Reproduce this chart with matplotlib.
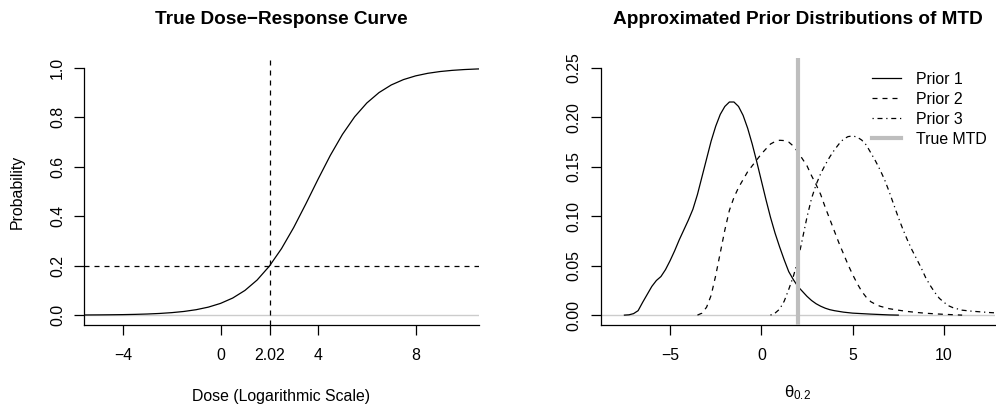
import matplotlib
matplotlib.use("Agg")
import matplotlib.pyplot as plt

plt.rcParams['font.family'] = ['Liberation Sans', 'DejaVu Sans']
plt.rcParams['mathtext.fontset'] = 'custom'
plt.rcParams['mathtext.rm'] = 'Liberation Sans'
plt.rcParams['mathtext.it'] = 'Liberation Sans'
plt.rcParams['mathtext.bf'] = 'Liberation Sans:bold'

# true dose-response curve (log dose scale)
dose = [-6.0, -5.5, -5.0, -4.5, -4.0, -3.5, -3.0, -2.5, -2.0, -1.5, -1.0, -0.5,
        0.0, 0.5, 1.0, 1.5, 2.0, 2.5, 3.0, 3.5, 4.0, 4.5, 5.0, 5.5,
        6.0, 6.5, 7.0, 7.5, 8.0, 8.5, 9.0, 9.5, 10.0, 10.5, 11.0]
prob = [0.0004, 0.0006, 0.0009, 0.0014, 0.0020, 0.0030, 0.0045, 0.0067, 0.0100, 0.0148, 0.0219, 0.0323,
        0.0474, 0.0691, 0.0998, 0.1419, 0.1978, 0.2689, 0.3543, 0.4502, 0.5498, 0.6457, 0.7311, 0.8022,
        0.8581, 0.9002, 0.9309, 0.9526, 0.9677, 0.9781, 0.9852, 0.9900, 0.9933, 0.9955, 0.9970]
target = 0.2
mtd = 2.02
dose_ticks = [-4, 0, 2.02, 4, 8]
dose_labels = ["\u22124", "0", "2.02", "4", "8"]
prob_ticks = [0.0, 0.2, 0.4, 0.6, 0.8, 1.0]

# approximated prior densities of the MTD
prior1_x = [-7.5, -7.25, -7.0, -6.75, -6.5, -6.25, -6.0, -5.75, -5.5, -5.25, -5.0, -4.75, -4.5, -4.25,
            -4.0, -3.75, -3.5, -3.25, -3.0, -2.75, -2.5, -2.25, -2.0, -1.75, -1.5, -1.25, -1.0, -0.75,
            -0.5, -0.25, 0.0, 0.25, 0.5, 0.75, 1.0, 1.25, 1.5, 1.75, 2.0, 2.25, 2.5, 2.75, 3.0, 3.25,
            3.5, 3.75, 4.0, 4.5, 5.0, 5.5, 6.0, 6.5, 7.0, 7.5]
prior1_y = [0.0, 0.0003, 0.0015, 0.0045, 0.013, 0.021, 0.029, 0.035, 0.039, 0.046, 0.055, 0.065, 0.076, 0.086,
            0.096, 0.107, 0.122, 0.140, 0.158, 0.176, 0.191, 0.203, 0.211, 0.2155, 0.2155, 0.211, 0.202, 0.189,
            0.173, 0.155, 0.136, 0.117, 0.099, 0.083, 0.069, 0.056, 0.044, 0.036, 0.029, 0.024, 0.019, 0.0148,
            0.0115, 0.009, 0.007, 0.0055, 0.0045, 0.003, 0.002, 0.0015, 0.001, 0.0006, 0.0002, 0.0]
prior2_x = [-3.5, -3.25, -3.0, -2.75, -2.5, -2.25, -2.0, -1.75, -1.5, -1.25, -1.0, -0.75, -0.5, -0.25,
            0.0, 0.25, 0.5, 0.75, 1.0, 1.25, 1.5, 1.75, 2.0, 2.25, 2.5, 2.75, 3.0, 3.25, 3.5, 3.75,
            4.0, 4.25, 4.5, 4.75, 5.0, 5.25, 5.5, 5.75, 6.0, 6.25, 6.5, 7.0, 7.5, 8.0, 8.5, 9.0,
            9.5, 10.0, 10.5, 11.0]
prior2_y = [0.0, 0.002, 0.008, 0.020, 0.040, 0.063, 0.086, 0.106, 0.119, 0.129, 0.137, 0.145, 0.151, 0.157,
            0.163, 0.168, 0.173, 0.1755, 0.1768, 0.1765, 0.175, 0.171, 0.165, 0.158, 0.151, 0.141, 0.132, 0.122,
            0.109, 0.097, 0.085, 0.073, 0.062, 0.051, 0.041, 0.032, 0.024, 0.018, 0.0135, 0.011, 0.009, 0.0065,
            0.005, 0.0037, 0.0027, 0.0019, 0.0013, 0.0008, 0.0004, 0.0]
prior3_x = [0.5, 0.75, 1.0, 1.25, 1.5, 1.75, 2.0, 2.25, 2.5, 2.75, 3.0, 3.25, 3.5, 3.75, 4.0, 4.25,
            4.5, 4.75, 5.0, 5.25, 5.5, 5.75, 6.0, 6.25, 6.5, 6.75, 7.0, 7.25, 7.5, 7.75, 8.0, 8.25,
            8.5, 8.75, 9.0, 9.25, 9.5, 9.75, 10.0, 10.25, 10.5, 11.0, 11.5, 12.0, 12.5, 13.0]
prior3_y = [0.0, 0.002, 0.006, 0.014, 0.026, 0.039, 0.055, 0.077, 0.099, 0.118, 0.132, 0.143, 0.152, 0.160,
            0.167, 0.173, 0.178, 0.1805, 0.1812, 0.180, 0.177, 0.172, 0.164, 0.156, 0.147, 0.137, 0.125, 0.112,
            0.099, 0.087, 0.076, 0.066, 0.057, 0.048, 0.038, 0.030, 0.023, 0.017, 0.013, 0.0095, 0.0075, 0.005,
            0.004, 0.0033, 0.0026, 0.0021]
theta_ticks = [-5, 0, 5, 10]
theta_labels = ["\u22125", "0", "5", "10"]
dens_ticks = [0.0, 0.05, 0.10, 0.15, 0.20, 0.25]
legend_labels = ["Prior 1", "Prior 2", "Prior 3", "True MTD"]

W, H = 996, 408
fs = 11.4
lw = 0.9
grey = "#bebebe"

fig = plt.figure(figsize=(W / 100, H / 100), dpi=100)
ax1 = fig.add_axes([84 / W, 1 - 325 / H, 395 / W, 267 / H])
ax2 = fig.add_axes([600.7 / W, 1 - 325 / H, 394.3 / W, 267 / H])


def style_axes(ax, ybottom, ytop):
    for s in ("top", "right"):
        ax.spines[s].set_visible(False)
    for s in ("left", "bottom"):
        ax.spines[s].set_linewidth(lw)
    ax.spines["left"].set_bounds(ybottom, ytop)
    ax.tick_params(length=7.2, width=lw, labelsize=fs)
    ax.tick_params(axis="x", pad=9)
    ax.tick_params(axis="y", pad=6.5, labelrotation=90)
    for t in ax.get_yticklabels():
        t.set_va("center")


# left panel
ax1.axhline(0, color="#cccccc", lw=1.0, zorder=1)
ax1.plot(dose, prob, color="black", lw=lw, zorder=2)
ax1.axhline(target, color="black", lw=lw, ls=(0, (4, 4)), zorder=3)
ax1.axvline(mtd, color="black", lw=lw, ls=(0, (4, 4)), zorder=3)
ax1.set_xlim(-5.6, 10.6)
ax1.set_ylim(-0.04, 1.04)
ax1.set_xticks(dose_ticks, dose_labels)
ax1.set_yticks(prob_ticks, [f"{v:.1f}" for v in prob_ticks])
style_axes(ax1, -0.04, 1.0)
ax1.text(-0.170, 0.5, "Probability", transform=ax1.transAxes, rotation=90,
         ha="center", va="center", fontsize=fs)
ax1.text(0.5, -0.2685, "Dose (Logarithmic Scale)", transform=ax1.transAxes,
         ha="center", va="center", fontsize=fs)

# right panel
ax2.axhline(0, color="#cccccc", lw=1.0, zorder=1)
l1, = ax2.plot(prior1_x, prior1_y, color="black", lw=lw, zorder=2)
l2, = ax2.plot(prior2_x, prior2_y, color="black", lw=lw, ls=(0, (4, 4)), zorder=2)
l3, = ax2.plot(prior3_x, prior3_y, color="black", lw=lw, ls=(0, (1, 3, 4, 3)), zorder=2)
l4 = ax2.axvline(mtd, color=grey, lw=3, zorder=3)
ax2.set_xlim(-8.8, 12.8)
ax2.set_ylim(-0.01, 0.26)
ax2.set_xticks(theta_ticks, theta_labels)
ax2.set_yticks(dens_ticks, [f"{v:.2f}" for v in dens_ticks])
style_axes(ax2, -0.01, 0.25)
ax2.text(0.5, -0.255, r"$\mathrm{\theta}_{0.2}$", transform=ax2.transAxes,
         ha="center", va="center", fontsize=fs + 0.6)
ax2.legend([l1, l2, l3, l4], legend_labels, loc="upper right",
           bbox_to_anchor=(987 / W, 1 - 72 / H), bbox_transform=fig.transFigure,
           frameon=False, borderpad=0, borderaxespad=0, handlelength=1.85,
           handletextpad=0.95, labelspacing=0.31, fontsize=fs)

fig.text(281.5 / W, 1 - 23.5 / H, "True Dose\u2212Response Curve", ha="center", va="baseline",
         fontsize=13.7, fontweight="bold")
fig.text(797.9 / W, 1 - 23.5 / H, "Approximated Prior Distributions of MTD", ha="center",
         va="baseline", fontsize=13.7, fontweight="bold")

fig.savefig("out.png", dpi=100)
